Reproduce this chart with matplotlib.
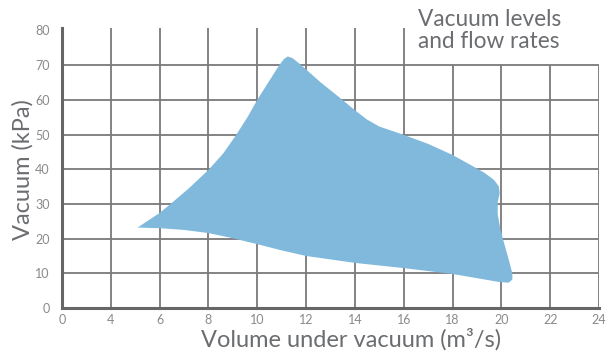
import numpy as np
import matplotlib
matplotlib.use("Agg")
import matplotlib.pyplot as plt

# Data (m3/s, kPa) - outline of the operating envelope
env_x = [5.1, 6.0, 6.45, 7.2, 8.0, 8.6, 9.1, 9.6, 10.0, 10.45, 10.9, 11.1, 11.25, 11.45,
         11.8, 12.6, 13.4, 14.0, 14.5, 15.0, 16.0, 17.0, 18.0, 18.8, 19.3, 19.7, 19.9,
         19.93, 19.85, 19.85, 19.95, 20.1, 20.3, 20.45, 20.45, 20.3, 19.9, 19.0, 18.0,
         16.0, 14.0, 12.0, 11.0, 10.0, 9.0, 8.0, 7.0, 6.0, 5.5]
env_y = [23.2, 27.4, 30.0, 34.5, 39.8, 44.5, 49.5, 55.0, 60.0, 65.0, 70.0, 71.8, 72.5, 72.0,
         70.0, 65.0, 60.5, 57.0, 54.3, 52.3, 49.9, 47.3, 44.1, 41.0, 39.0, 36.9, 35.0,
         33.0, 30.5, 27.0, 23.0, 19.0, 14.0, 10.0, 8.2, 7.3, 7.5, 8.6, 9.8,
         11.5, 13.0, 15.0, 16.6, 18.4, 20.1, 21.6, 22.5, 23.0, 23.1]
x_ticks = [0, 4, 6, 8, 10, 12, 14, 16, 18, 20, 22, 24]
y_ticks = [0, 10, 20, 30, 40, 50, 60, 70, 80]
title = "Vacuum levels\nand flow rates"
xlabel = "Volume under vacuum (m\u00b3/s)"
ylabel = "Vacuum (kPa)"

plt.rcParams['font.family'] = ['Lato', 'DejaVu Sans']

def fwd(x):
    x = np.asarray(x, dtype=float)
    return np.where(x < 4, x / 4.0, (x - 2.0) / 2.0)

def inv(p):
    p = np.asarray(p, dtype=float)
    return np.where(p < 1, p * 4.0, 2.0 * p + 2.0)

fig = plt.figure(figsize=(6.08, 3.53), dpi=100)
ax = fig.add_axes([62/608, 45/353, 537/608, 280/353])
ax.set_xscale('function', functions=(fwd, inv))
ax.set_xlim(0, 24)
ax.set_ylim(0, 80.7)

grid_c = '#7a7a7a'
for yv in y_ticks[1:-1]:
    ax.axhline(yv, color=grid_c, lw=1.3, zorder=1)
for xv in x_ticks[1:]:
    top = 80.7 if xv <= 16 else 70
    ax.plot([xv, xv], [0, top], color=grid_c, lw=1.3, zorder=1, solid_capstyle='butt')

ax.fill(env_x, env_y, color='#80b9db', lw=0, zorder=2)

for s in ['top', 'right']:
    ax.spines[s].set_visible(False)
for s in ['left', 'bottom']:
    ax.spines[s].set_color('#666666')
    ax.spines[s].set_linewidth(2.2)
    ax.spines[s].set_zorder(3)

ax.set_xticks(x_ticks)
ax.set_xticklabels([str(t) for t in x_ticks])
ax.set_yticks(y_ticks)
ax.set_yticklabels([str(t) for t in y_ticks])
ax.tick_params(length=0, labelsize=9, colors='#8a8a8a', pad=4)
ax.tick_params(axis='y', pad=9)

fig.text(351/608, 1 - 347/353, xlabel, ha='center', va='baseline', fontsize=17, color='#6b6d70')
fig.text(23/608, 1 - 170/353, ylabel, ha='center', va='center', rotation=90, fontsize=17, color='#6b6d70')
fig.text(418/608, 1 - 9/353, title, ha='left', va='top', fontsize=16.3, color='#6b6d70', linespacing=1.05)

fig.savefig('out.png', dpi=100)
